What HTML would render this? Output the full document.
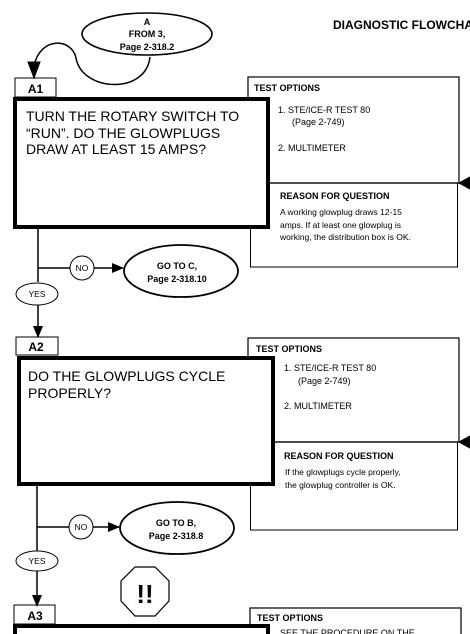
<!DOCTYPE html>
<html><head><meta charset="utf-8"><style>
html,body{margin:0;padding:0;background:#fff;width:470px;height:634px;overflow:hidden}
svg{display:block;font-family:"Liberation Sans",Arial,sans-serif}
.b{font-weight:bold}
</style></head><body>
<svg width="470" height="634" viewBox="0 0 470 634" xmlns="http://www.w3.org/2000/svg">
<defs>
<marker id="ah" markerWidth="12" markerHeight="12" refX="11" refY="6" orient="auto" markerUnits="userSpaceOnUse">
<path d="M0,1 L12,6 L0,11 Z" fill="#000"/></marker>
</defs>
<g fill="none" stroke="#000">
<ellipse cx="147" cy="34" rx="65" ry="21" stroke-width="1.6"/>
<path d="M150,57 C146,95 82,92 76,58 C72,38 40,36 34,66" stroke-width="1.5"/>
<path d="M28,62 L34,78 L40,62 Z" fill="#000"/>

<!-- A1 -->
<rect x="15" y="78" width="41" height="19" stroke-width="1"/>
<rect x="248" y="77" width="211" height="106" stroke-width="1.2"/>
<rect x="250.5" y="183" width="207" height="84" stroke-width="1"/>
<line x1="250" y1="183" x2="470" y2="183" stroke-width="1.2"/>
<rect x="15" y="99" width="253" height="128" fill="#fff" stroke-width="4"/>
<line x1="38" y1="228" x2="38" y2="282" stroke-width="1.5"/>
<line x1="38" y1="268" x2="70" y2="268" stroke-width="1.5"/>
<circle cx="82" cy="268" r="12" stroke-width="1"/>
<line x1="94" y1="268" x2="123" y2="268" stroke-width="1.5" marker-end="url(#ah)"/>
<ellipse cx="181" cy="271" rx="57" ry="26" stroke-width="1.8"/>
<ellipse cx="37" cy="294" rx="21" ry="11" stroke-width="1"/>
<line x1="38" y1="305" x2="38" y2="337" stroke-width="1.5" marker-end="url(#ah)"/>

<!-- A2 -->
<rect x="16" y="337" width="42" height="18" stroke-width="1"/>
<rect x="248" y="338" width="211" height="104" stroke-width="1.2"/>
<rect x="250.5" y="442" width="207" height="88" stroke-width="1"/>
<line x1="275" y1="442" x2="470" y2="442" stroke-width="1.2"/>
<path d="M470,436 L459,442 L470,448 Z" fill="#000"/>
<path d="M470,177 L459,183 L470,189 Z" fill="#000"/>
<rect x="19" y="358" width="254" height="126" fill="#fff" stroke-width="4"/>
<line x1="37" y1="486" x2="37" y2="551" stroke-width="1.5"/>
<line x1="37" y1="527" x2="69" y2="527" stroke-width="1.5"/>
<circle cx="81" cy="527" r="12" stroke-width="1"/>
<line x1="93" y1="527" x2="119" y2="527" stroke-width="1.5" marker-end="url(#ah)"/>
<ellipse cx="177" cy="528" rx="57" ry="26" stroke-width="1.8"/>
<ellipse cx="37" cy="561" rx="21" ry="10" stroke-width="1"/>
<line x1="37" y1="571" x2="37" y2="606" stroke-width="1.5" marker-end="url(#ah)"/>

<polygon points="135,567 155,567 169,581 169,601 155,616 135,616 121,601 121,581" stroke-width="1.2"/>

<!-- A3 -->
<rect x="14" y="605" width="41" height="19" stroke-width="1"/>
<rect x="250" y="608" width="211" height="40" stroke-width="1.2"/>
<rect x="15" y="626" width="253" height="30" fill="#fff" stroke-width="4"/>
</g>

<g fill="#000">
<text x="147" y="25" font-size="9" class="b" text-anchor="middle">A</text>
<text x="147" y="37" font-size="9" class="b" text-anchor="middle">FROM 3,</text>
<text x="147" y="50" font-size="9" class="b" text-anchor="middle">Page 2-318.2</text>
<text x="333" y="29" font-size="12" class="b">DIAGNOSTIC FLOWCHART</text>

<text x="35.5" y="93" font-size="12" class="b" text-anchor="middle">A1</text>
<text x="26" y="121" font-size="14">TURN THE ROTARY SWITCH TO</text>
<text x="26" y="138" font-size="14">“RUN”.  DO THE GLOWPLUGS</text>
<text x="26" y="154" font-size="14">DRAW AT LEAST 15 AMPS?</text>
<text x="254" y="91" font-size="9" class="b">TEST OPTIONS</text>
<text x="278" y="113" font-size="9">1. STE/ICE-R TEST 80</text>
<text x="292" y="125" font-size="9">(Page 2-749)</text>
<text x="278" y="151" font-size="9">2. MULTIMETER</text>
<text x="280" y="199" font-size="9" class="b">REASON FOR QUESTION</text>
<text x="280" y="215" font-size="8.5">A working glowplug draws 12-15</text>
<text x="280" y="228" font-size="8.5">amps.  If at least one glowplug is</text>
<text x="280" y="240" font-size="8.5">working, the distribution box is OK.</text>
<text x="82" y="271" font-size="8.5" text-anchor="middle">NO</text>
<text x="177" y="269" font-size="9" class="b" text-anchor="middle">GO TO C,</text>
<text x="177" y="282" font-size="9" class="b" text-anchor="middle">Page 2-318.10</text>
<text x="37" y="297" font-size="8.5" text-anchor="middle">YES</text>

<text x="36" y="351" font-size="12" class="b" text-anchor="middle">A2</text>
<text x="28" y="381" font-size="14">DO THE GLOWPLUGS CYCLE</text>
<text x="28" y="398" font-size="14">PROPERLY?</text>
<text x="256" y="352" font-size="9" class="b">TEST OPTIONS</text>
<text x="284" y="371" font-size="9">1. STE/ICE-R TEST 80</text>
<text x="298" y="384" font-size="9">(Page 2-749)</text>
<text x="284" y="409" font-size="9">2. MULTIMETER</text>
<text x="284" y="459" font-size="9" class="b">REASON FOR QUESTION</text>
<text x="285" y="475" font-size="8.5">If the glowplugs cycle properly,</text>
<text x="285" y="488" font-size="8.5">the glowplug controller is OK.</text>
<text x="81" y="530" font-size="8.5" text-anchor="middle">NO</text>
<text x="176" y="526" font-size="9" class="b" text-anchor="middle">GO TO B,</text>
<text x="176" y="539" font-size="9" class="b" text-anchor="middle">Page 2-318.8</text>
<text x="37" y="564" font-size="8.5" text-anchor="middle">YES</text>
<text x="145" y="603" font-size="26" class="b" text-anchor="middle">!!</text>

<text x="35" y="620" font-size="12" class="b" text-anchor="middle">A3</text>
<text x="257" y="621" font-size="9" class="b">TEST OPTIONS</text>
<text x="280" y="636" font-size="9">SEE THE PROCEDURE ON THE</text>
</g>
</svg>
</body></html>
